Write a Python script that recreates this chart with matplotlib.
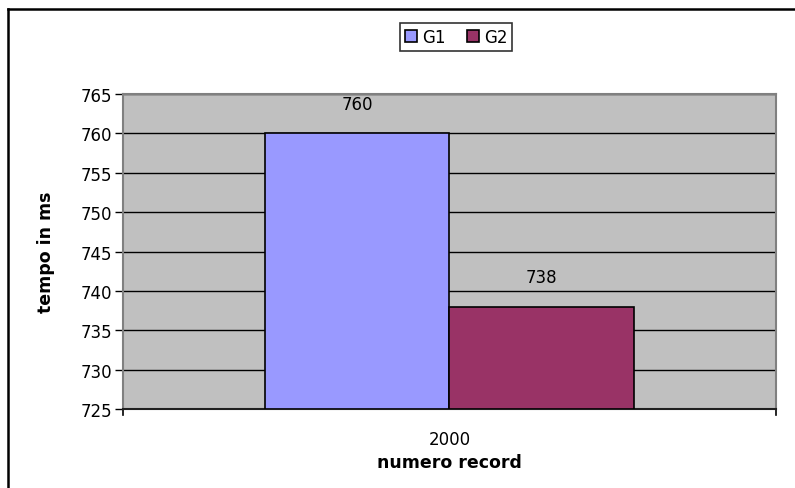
import matplotlib
matplotlib.use('Agg')
import matplotlib.pyplot as plt
from matplotlib.lines import Line2D

plt.rcParams['font.family'] = ['DejaVu Sans']

categories = ['2000']
series_names = ['G1', 'G2']
g1_values = [760]
g2_values = [738]
colors = ['#9999FF', '#993366']

fig = plt.figure(figsize=(7.95, 4.89), dpi=100)
ax = fig.add_axes([0.1547, 0.1616, 0.821, 0.644])
ax.set_facecolor('#C0C0C0')

width = 0.283
x = range(len(categories))
for i, (name, vals) in enumerate(zip(series_names, [g1_values, g2_values])):
    pos = [xx + (i - 0.5) * width for xx in x]
    ax.bar(pos, [v - 725 for v in vals], width, bottom=725, color=colors[i],
           edgecolor='black', linewidth=1.2, label=name, zorder=3)
    for p, v in zip(pos, vals):
        ax.text(p, v + 2.6, str(v), ha='center', va='bottom', fontsize=12, zorder=4)

ax.set_xlim(-0.5, 0.5)
ax.set_ylim(725, 765)
ax.set_yticks(range(725, 766, 5))
ax.set_xticks([-0.5] + list(x) + [0.5])
ax.set_xticklabels([''] + categories + [''], fontsize=12)
ax.tick_params(axis='x', length=0, pad=15)
ax.tick_params(axis='y', length=6, width=1, labelsize=12, pad=2)
ax.yaxis.grid(True, color='black', linewidth=1, zorder=0)
ax.set_axisbelow(True)
for s in ['top', 'right', 'left']:
    ax.spines[s].set_color('#808080')
    ax.spines[s].set_linewidth(1.5)
ax.spines['bottom'].set_linewidth(1.5)
ax.spines['bottom'].set_color('#202020')
# x-axis category boundary ticks
for xb in [-0.5, 0.5]:
    ax.plot([xb, xb], [0, -0.02], transform=ax.get_xaxis_transform(), color='black',
            linewidth=1.2, clip_on=False)

ax.set_ylabel('tempo in ms', fontsize=12.5, fontweight='bold', labelpad=18)
ax.set_xlabel('numero record', fontsize=12.5, fontweight='bold', labelpad=4)

leg = fig.legend(loc='center', bbox_to_anchor=(0.574, 0.922), ncol=2, fontsize=12,
                 frameon=True, fancybox=False, handlelength=0.7, handleheight=0.7,
                 handletextpad=0.3, columnspacing=1.3, borderpad=0.3, borderaxespad=0)
leg.get_frame().set_edgecolor('black')
leg.get_frame().set_linewidth(1.2)

# chart area border (left and top only visible)
fig.add_artist(Line2D([0.0105, 0.0105], [0.0, 0.98], transform=fig.transFigure,
                      color='black', linewidth=1.8))
fig.add_artist(Line2D([0.0105, 1.0], [0.98, 0.98], transform=fig.transFigure,
                      color='black', linewidth=1.8))

fig.savefig('out.png', dpi=100)
